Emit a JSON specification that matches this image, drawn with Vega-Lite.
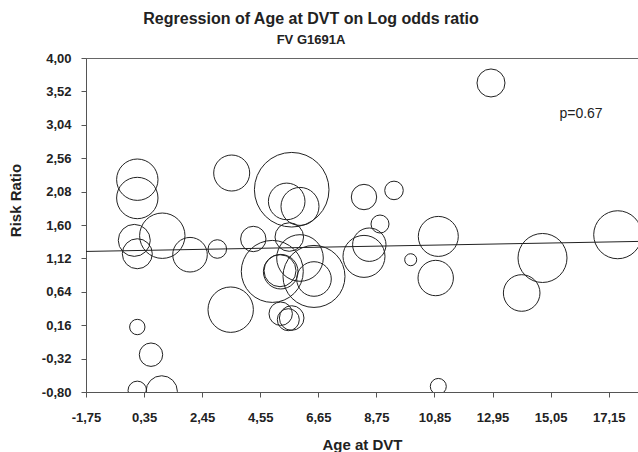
{
  "$schema": "https://vega.github.io/schema/vega-lite/v6.json",
  "width": 552,
  "height": 334,
  "autosize": {"type": "none"},
  "padding": {"left": 86, "top": 58, "right": 0, "bottom": 60},
  "background": "white",
  "config": {
    "view": {"stroke": "#666", "strokeWidth": 1},
    "font": "Liberation Sans"
  },
  "title": {
    "text": "Regression of Age at DVT on Log odds ratio",
    "subtitle": "FV G1691A",
    "anchor": "middle",
    "dx": -51,
    "offset": 5,
    "font": "Liberation Sans",
    "fontSize": 16,
    "fontWeight": "bold",
    "color": "#222",
    "subtitleFont": "Liberation Sans",
    "subtitleFontSize": 13,
    "subtitleFontWeight": "bold",
    "subtitleColor": "#222",
    "subtitlePadding": 7
  },
  "layer": [
    {
      "data": {
        "values": [
          {"age": 0.105, "rr": 2.251, "weight": 428},
          {"age": 0.105, "rr": 1.988, "weight": 428},
          {"age": 3.518, "rr": 2.347, "weight": 324},
          {"age": 5.688, "rr": 2.107, "weight": 1391},
          {"age": 5.507, "rr": 1.939, "weight": 335},
          {"age": 5.988, "rr": 1.867, "weight": 361},
          {"age": 12.894, "rr": 3.641, "weight": 196},
          {"age": 8.302, "rr": 2.002, "weight": 161},
          {"age": 9.387, "rr": 2.097, "weight": 86},
          {"age": -0.004, "rr": 1.379, "weight": 256},
          {"age": 0.105, "rr": 1.187, "weight": 225},
          {"age": 1.009, "rr": 1.446, "weight": 515},
          {"age": 2.011, "rr": 1.173, "weight": 299},
          {"age": 2.998, "rr": 1.255, "weight": 86},
          {"age": 4.299, "rr": 1.399, "weight": 161},
          {"age": 5.601, "rr": 1.427, "weight": 204},
          {"age": 4.986, "rr": 0.933, "weight": 961},
          {"age": 5.29, "rr": 0.929, "weight": 299},
          {"age": 5.265, "rr": 0.943, "weight": 256},
          {"age": 5.988, "rr": 1.126, "weight": 543},
          {"age": 6.494, "rr": 0.861, "weight": 961},
          {"age": 6.494, "rr": 0.824, "weight": 299},
          {"age": 3.482, "rr": 0.383, "weight": 515},
          {"age": 5.29, "rr": 0.325, "weight": 137},
          {"age": 5.688, "rr": 0.263, "weight": 151},
          {"age": 5.565, "rr": 0.239, "weight": 121},
          {"age": 0.105, "rr": 0.134, "weight": 59},
          {"age": 0.6, "rr": -0.264, "weight": 137},
          {"age": 0.105, "rr": -0.777, "weight": 86},
          {"age": 0.987, "rr": -0.792, "weight": 246},
          {"age": 8.881, "rr": 1.614, "weight": 81},
          {"age": 8.494, "rr": 1.317, "weight": 279},
          {"age": 8.302, "rr": 1.149, "weight": 441},
          {"age": 9.991, "rr": 1.101, "weight": 36},
          {"age": 10.989, "rr": 1.436, "weight": 400},
          {"age": 10.895, "rr": 0.838, "weight": 313},
          {"age": 14.757, "rr": 1.126, "weight": 600},
          {"age": 14.004, "rr": 0.623, "weight": 335},
          {"age": 17.476, "rr": 1.46, "weight": 576},
          {"age": 10.989, "rr": -0.72, "weight": 64}
        ]
      },
      "mark": {"type": "point", "shape": "circle", "filled": false, "stroke": "#222", "strokeWidth": 1, "opacity": 1, "clip": true},
      "encoding": {
        "x": {
          "field": "age",
          "type": "quantitative",
          "scale": {"domain": [-1.75, 18.21], "nice": false, "zero": false},
          "axis": {
            "title": "Age at DVT",
            "values": [-1.75, 0.35, 2.45, 4.55, 6.65, 8.75, 10.85, 12.95, 15.05, 17.15],
            "tickCount": 20,
            "labelExpr": "replace(replace(format(datum.value, '.2f'), '.', ','), '−', '-')",
            "grid": false,
            "domainColor": "#555",
            "tickColor": "#555",
            "tickSize": 5,
            "labelFont": "Liberation Sans",
            "labelFontSize": 13,
            "labelFontWeight": "bold",
            "labelColor": "#222",
            "labelPadding": 14,
            "labelFlush": false,
            "labelOverlap": false,
            "titleFont": "Liberation Sans",
            "titleFontSize": 15,
            "titleFontWeight": "bold",
            "titleColor": "#222",
            "titlePadding": 13
          }
        },
        "y": {
          "field": "rr",
          "type": "quantitative",
          "scale": {"domain": [-0.8, 4.0], "nice": false, "zero": false},
          "axis": {
            "title": "Risk Ratio",
            "values": [-0.8, -0.32, 0.16, 0.64, 1.12, 1.6, 2.08, 2.56, 3.04, 3.52, 4.0],
            "tickCount": 20,
            "labelExpr": "replace(replace(format(datum.value, '.2f'), '.', ','), '−', '-')",
            "grid": false,
            "domainColor": "#555",
            "tickColor": "#555",
            "tickSize": 5,
            "labelFont": "Liberation Sans",
            "labelFontSize": 13,
            "labelFontWeight": "bold",
            "labelColor": "#222",
            "labelPadding": 10,
            "labelOverlap": false,
            "titleFont": "Liberation Sans",
            "titleFontSize": 15,
            "titleFontWeight": "bold",
            "titleColor": "#222",
            "titlePadding": 18,
            "titleY": 142
          }
        },
        "size": {
          "field": "weight",
          "type": "quantitative",
          "scale": {"type": "linear", "domain": [0, 1400], "range": [0, 5600], "zero": true},
          "legend": null
        }
      }
    },
    {
      "data": {"values": [{"age": -1.75, "fit": 1.22}, {"age": 18.21, "fit": 1.364}]},
      "mark": {"type": "line", "color": "#222", "strokeWidth": 1, "clip": true},
      "encoding": {
        "x": {"field": "age", "type": "quantitative"},
        "y": {"field": "fit", "type": "quantitative"}
      }
    },
    {
      "data": {"values": [{"label": "p=0.67"}]},
      "mark": {"type": "text", "font": "Liberation Sans", "fontSize": 14, "color": "#222", "align": "center", "baseline": "middle"},
      "encoding": {
        "x": {"datum": 16.15, "type": "quantitative"},
        "y": {"datum": 3.2, "type": "quantitative"},
        "text": {"field": "label"}
      }
    }
  ]
}
